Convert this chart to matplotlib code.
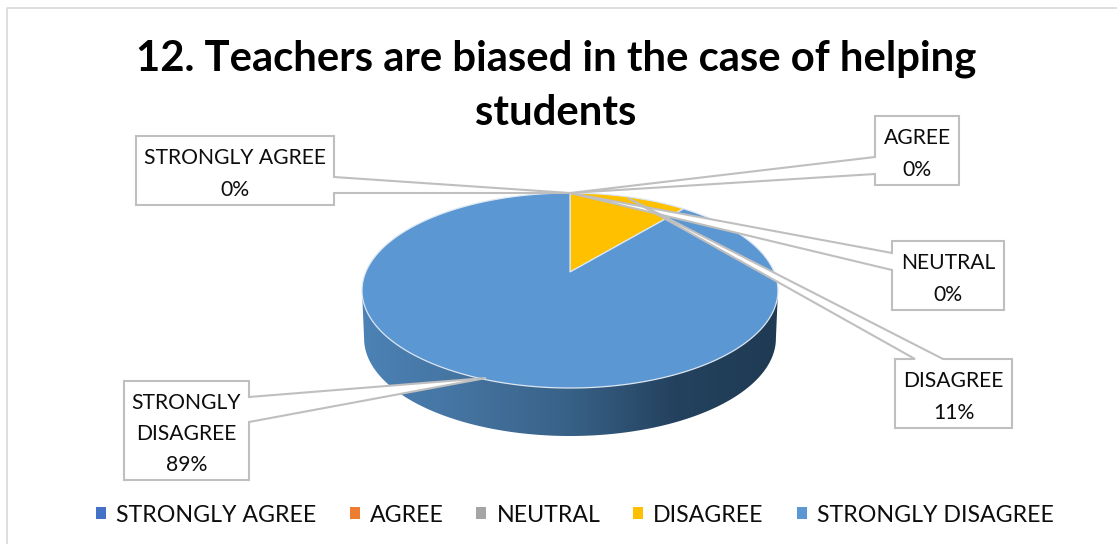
import numpy as np
import matplotlib
matplotlib.use("Agg")
import matplotlib.pyplot as plt
from matplotlib.patches import Polygon, Patch
from matplotlib.colors import LinearSegmentedColormap

categories = ["STRONGLY AGREE", "AGREE", "NEUTRAL", "DISAGREE", "STRONGLY DISAGREE"]
values = [0, 0, 0, 11, 89]
colors = ["#4472C4", "#ED7D31", "#A5A5A5", "#FFC000", "#5B97D3"]
title = "12. Teachers are biased in the case of helping\nstudents"

plt.rcParams["font.family"] = ["Lato", "DejaVu Sans"]
fig = plt.figure(figsize=(11.17, 5.44), dpi=100)
ax = fig.add_axes([0, 0, 1, 1])
ax.set_xlim(0, 1117)
ax.set_ylim(544, 0)
ax.axis("off")

# frame
ax.plot([7, 7, 1117], [544, 8, 8], color="#d9d9d9", lw=1.2)

# perspective projection of the pie disc
cx, cy, c, A, K, depth = 570, 272, 0.1897, 94, 204.2, 48

def project(theta):
    X, Y = np.sin(theta), np.cos(theta)
    d = 1 + c * Y
    return cx + K * X / d, cy - A * Y / d

# side wall with horizontal gradient: silhouette from widest point to widest point
t0 = np.arccos(-c)
lower = np.linspace(t0, 2 * np.pi - t0, 181)
bx, by = project(lower)
bx2 = cx + (bx - cx) * 0.99
wall_x = np.r_[bx[0], bx2, bx[-1]]
wall_y = np.r_[by[0], by + depth, by[-1]]
wall = LinearSegmentedColormap.from_list(
    "wall", ["#4C82B6", "#44739F", "#386187", "#24425F", "#1F3A53"])
grad = np.linspace(0, 1, 256).reshape(1, -1)
im = ax.imshow(grad, cmap=wall, extent=[bx.min(), bx.max(), (by + depth).max(), by.min()],
               aspect="auto", zorder=1)
ax.set_xlim(0, 1117)
ax.set_ylim(544, 0)
poly = Polygon(np.column_stack([wall_x, wall_y]), closed=True, fc="none", ec="none")
ax.add_patch(poly)
im.set_clip_path(poly)

# top face, wedges clockwise from twelve o'clock
cum = np.cumsum([0] + values) / sum(values) * 2 * np.pi
for v, a0, a1, col in zip(values, cum[:-1], cum[1:], colors):
    if v == 0:
        continue
    th = np.linspace(a0, a1, max(int(v * 4), 8))
    x, y = project(th)
    ax.add_patch(Polygon(np.column_stack([np.r_[cx, x], np.r_[cy, y]]), closed=True,
                         fc=col, ec="#DCE7F2", lw=0.9, zorder=2))

# data-label callouts, drawn as outlines around box and pointer
callouts = [
    ("STRONGLY AGREE\n0%", [(136, 136), (334, 136), (334, 177), (570, 193), (334, 193), (334, 205), (136, 205)]),
    ("AGREE\n0%", [(875, 116), (875, 157), (570, 193), (875, 174), (875, 185), (959, 185), (959, 116)]),
    ("NEUTRAL\n0%", [(892, 241), (892, 253), (570, 193), (892, 270), (892, 310), (1004, 310), (1004, 241)]),
    ("DISAGREE\n11%", [(895, 359), (915, 359), (628, 198), (943, 359), (1012, 359), (1012, 428), (895, 428)]),
    ("STRONGLY\nDISAGREE\n89%", [(124, 381), (249, 381), (249, 397), (486, 378), (249, 422), (249, 480), (124, 480)]),
]
for txt, shape in callouts:
    ax.add_patch(Polygon(shape, closed=True, fc="white", ec="#BFBFBF", lw=1.5, zorder=3))
    xs = [p[0] for p in shape if p[0] not in (570, 628, 486)]
    ys = [p[1] for p in shape if p[0] not in (570, 628, 486)]
    ax.text((min(xs) + max(xs)) / 2, (min(ys) + max(ys)) / 2 + 3.5, txt, ha="center", va="center",
            fontsize=15.2, linespacing=1.69, color="#0D0D0D", zorder=4)

ax.text(556, 86, title, ha="center", va="center", fontsize=30.2, fontweight="bold",
        linespacing=1.53, color="#000000", zorder=5)

handles = [Patch(fc=col, ec="none", label=cat) for col, cat in zip(colors, categories)]
fs = 16.7
px = fs * 100 / 72
ax.legend(handles=handles, ncol=5, loc="center", bbox_to_anchor=(575 / 1117, 1 - 515 / 544),
          frameon=False, fontsize=fs, handlelength=10 / px, handleheight=10 / px,
          handletextpad=10 / px, columnspacing=33 / px, labelcolor="#0D0D0D")

fig.savefig("out.png", dpi=100, facecolor="white")
